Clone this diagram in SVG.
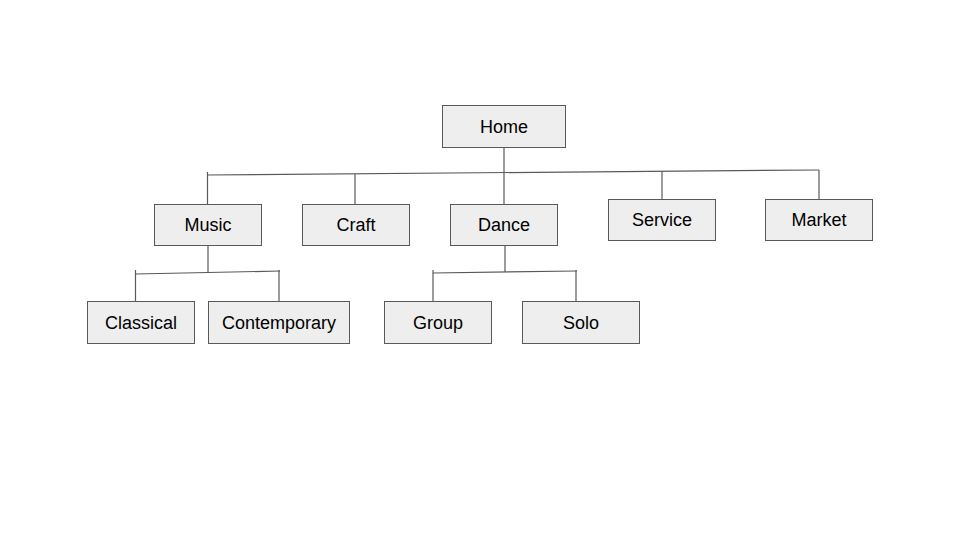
<svg xmlns="http://www.w3.org/2000/svg" width="960" height="540" viewBox="0 0 960 540">
  <style>
    .box rect { fill: #eeeeee; stroke: #595959; stroke-width: 1; }
    .box text { font-family: "Liberation Sans", Arial, sans-serif; font-size: 18px; fill: #000000; text-anchor: middle; dominant-baseline: central; }
    #connectors path { fill: none; stroke: #595959; stroke-width: 1.2; }
  </style>
  <rect width="960" height="540" fill="#ffffff"/>

  <g id="connectors">
    <!-- Home to first level -->
    <path d="M504 147 V204"/>
    <path d="M207 175 L819 170"/>
    <path d="M207.5 172 V204"/>
    <path d="M355 174 V204"/>
    <path d="M662 171 V199"/>
    <path d="M819 170 V199"/>
    <!-- Music to its children -->
    <path d="M208 245 V272"/>
    <path d="M135 274 L280 271"/>
    <path d="M135.5 270 V301"/>
    <path d="M279 270 V301"/>
    <!-- Dance to its children -->
    <path d="M505 245 V272"/>
    <path d="M433 273 L577 271"/>
    <path d="M433 270 V301"/>
    <path d="M576 270 V301"/>
  </g>

  <g id="home" class="box"><rect x="442.5" y="105.5" width="123" height="42"/><text x="504" y="127">Home</text></g>
  <g id="music" class="box"><rect x="154.5" y="204.5" width="107" height="41"/><text x="208" y="225">Music</text></g>
  <g id="craft" class="box"><rect x="302.5" y="204.5" width="107" height="41"/><text x="356" y="225">Craft</text></g>
  <g id="dance" class="box"><rect x="450.5" y="204.5" width="107" height="41"/><text x="504" y="225">Dance</text></g>
  <g id="service" class="box"><rect x="608.5" y="199.5" width="107" height="41"/><text x="662" y="220">Service</text></g>
  <g id="market" class="box"><rect x="765.5" y="199.5" width="107" height="41"/><text x="819" y="220">Market</text></g>
  <g id="classical" class="box"><rect x="87.5" y="301.5" width="107" height="42"/><text x="141" y="323">Classical</text></g>
  <g id="contemporary" class="box"><rect x="208.5" y="301.5" width="141" height="42"/><text x="279" y="323">Contemporary</text></g>
  <g id="group" class="box"><rect x="384.5" y="301.5" width="107" height="42"/><text x="438" y="323">Group</text></g>
  <g id="solo" class="box"><rect x="522.5" y="301.5" width="117" height="42"/><text x="581" y="323">Solo</text></g>
</svg>
